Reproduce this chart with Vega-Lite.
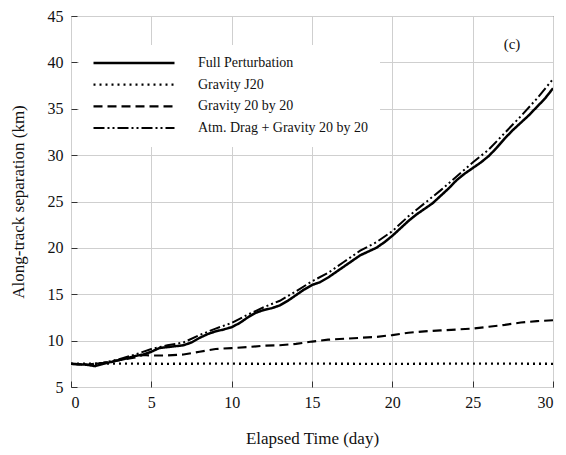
{
  "$schema": "https://vega.github.io/schema/vega-lite/v6.json",
  "width": 482,
  "height": 371,
  "autosize": "none",
  "padding": {"left": 71, "top": 16, "right": 13, "bottom": 68},
  "background": "white",
  "config": {
    "view": {"stroke": "#333333", "strokeWidth": 1},
    "font": "Liberation Serif",
    "axis": {
      "labelFont": "Liberation Serif",
      "titleFont": "Liberation Serif",
      "labelColor": "#111111",
      "titleColor": "#111111",
      "labelFontSize": 16,
      "titleFontSize": 17,
      "titleFontWeight": "normal",
      "domain": false,
      "gridColor": "#cfcfcf",
      "gridWidth": 1,
      "tickColor": "#333333",
      "tickSize": -6
    },
    "legend": {
      "labelFont": "Liberation Serif",
      "labelFontSize": 14,
      "labelColor": "#111111"
    }
  },
  "datasets": {
    "curves": [
      {"t": 0, "v": 7.5, "series": "Full Perturbation"},
      {"t": 0.5, "v": 7.45, "series": "Full Perturbation"},
      {"t": 1, "v": 7.4, "series": "Full Perturbation"},
      {"t": 1.5, "v": 7.25, "series": "Full Perturbation"},
      {"t": 2, "v": 7.5, "series": "Full Perturbation"},
      {"t": 2.5, "v": 7.7, "series": "Full Perturbation"},
      {"t": 3, "v": 7.9, "series": "Full Perturbation"},
      {"t": 3.5, "v": 8.1, "series": "Full Perturbation"},
      {"t": 4, "v": 8.35, "series": "Full Perturbation"},
      {"t": 4.5, "v": 8.5, "series": "Full Perturbation"},
      {"t": 5, "v": 8.8, "series": "Full Perturbation"},
      {"t": 5.5, "v": 9.2, "series": "Full Perturbation"},
      {"t": 6, "v": 9.3, "series": "Full Perturbation"},
      {"t": 6.5, "v": 9.4, "series": "Full Perturbation"},
      {"t": 7, "v": 9.5, "series": "Full Perturbation"},
      {"t": 7.5, "v": 9.8, "series": "Full Perturbation"},
      {"t": 8, "v": 10.3, "series": "Full Perturbation"},
      {"t": 8.5, "v": 10.7, "series": "Full Perturbation"},
      {"t": 9, "v": 11.0, "series": "Full Perturbation"},
      {"t": 9.5, "v": 11.2, "series": "Full Perturbation"},
      {"t": 10, "v": 11.45, "series": "Full Perturbation"},
      {"t": 10.5, "v": 11.9, "series": "Full Perturbation"},
      {"t": 11, "v": 12.5, "series": "Full Perturbation"},
      {"t": 11.5, "v": 13.0, "series": "Full Perturbation"},
      {"t": 12, "v": 13.3, "series": "Full Perturbation"},
      {"t": 12.5, "v": 13.5, "series": "Full Perturbation"},
      {"t": 13, "v": 13.8, "series": "Full Perturbation"},
      {"t": 13.5, "v": 14.3, "series": "Full Perturbation"},
      {"t": 14, "v": 14.9, "series": "Full Perturbation"},
      {"t": 14.5, "v": 15.5, "series": "Full Perturbation"},
      {"t": 15, "v": 16.0, "series": "Full Perturbation"},
      {"t": 15.5, "v": 16.3, "series": "Full Perturbation"},
      {"t": 16, "v": 16.8, "series": "Full Perturbation"},
      {"t": 16.5, "v": 17.4, "series": "Full Perturbation"},
      {"t": 17, "v": 18.0, "series": "Full Perturbation"},
      {"t": 17.5, "v": 18.6, "series": "Full Perturbation"},
      {"t": 18, "v": 19.2, "series": "Full Perturbation"},
      {"t": 18.5, "v": 19.6, "series": "Full Perturbation"},
      {"t": 19, "v": 20.0, "series": "Full Perturbation"},
      {"t": 19.5, "v": 20.6, "series": "Full Perturbation"},
      {"t": 20, "v": 21.3, "series": "Full Perturbation"},
      {"t": 20.5, "v": 22.1, "series": "Full Perturbation"},
      {"t": 21, "v": 22.9, "series": "Full Perturbation"},
      {"t": 21.5, "v": 23.6, "series": "Full Perturbation"},
      {"t": 22, "v": 24.2, "series": "Full Perturbation"},
      {"t": 22.5, "v": 24.8, "series": "Full Perturbation"},
      {"t": 23, "v": 25.6, "series": "Full Perturbation"},
      {"t": 23.5, "v": 26.4, "series": "Full Perturbation"},
      {"t": 24, "v": 27.3, "series": "Full Perturbation"},
      {"t": 24.5, "v": 28.0, "series": "Full Perturbation"},
      {"t": 25, "v": 28.6, "series": "Full Perturbation"},
      {"t": 25.5, "v": 29.2, "series": "Full Perturbation"},
      {"t": 26, "v": 29.9, "series": "Full Perturbation"},
      {"t": 26.5, "v": 30.8, "series": "Full Perturbation"},
      {"t": 27, "v": 31.8, "series": "Full Perturbation"},
      {"t": 27.5, "v": 32.7, "series": "Full Perturbation"},
      {"t": 28, "v": 33.5, "series": "Full Perturbation"},
      {"t": 28.5, "v": 34.3, "series": "Full Perturbation"},
      {"t": 29, "v": 35.2, "series": "Full Perturbation"},
      {"t": 29.5, "v": 36.1, "series": "Full Perturbation"},
      {"t": 30, "v": 37.2, "series": "Full Perturbation"},

      {"t": 0, "v": 7.5, "series": "Gravity J20"},
      {"t": 3, "v": 7.52, "series": "Gravity J20"},
      {"t": 6, "v": 7.5, "series": "Gravity J20"},
      {"t": 9, "v": 7.52, "series": "Gravity J20"},
      {"t": 12, "v": 7.5, "series": "Gravity J20"},
      {"t": 15, "v": 7.52, "series": "Gravity J20"},
      {"t": 18, "v": 7.5, "series": "Gravity J20"},
      {"t": 21, "v": 7.5, "series": "Gravity J20"},
      {"t": 24, "v": 7.52, "series": "Gravity J20"},
      {"t": 27, "v": 7.52, "series": "Gravity J20"},
      {"t": 30, "v": 7.5, "series": "Gravity J20"},

      {"t": 0, "v": 7.5, "series": "Gravity 20 by 20"},
      {"t": 1, "v": 7.4, "series": "Gravity 20 by 20"},
      {"t": 2, "v": 7.6, "series": "Gravity 20 by 20"},
      {"t": 3, "v": 7.9, "series": "Gravity 20 by 20"},
      {"t": 4, "v": 8.2, "series": "Gravity 20 by 20"},
      {"t": 4.5, "v": 8.45, "series": "Gravity 20 by 20"},
      {"t": 5, "v": 8.4, "series": "Gravity 20 by 20"},
      {"t": 6, "v": 8.4, "series": "Gravity 20 by 20"},
      {"t": 7, "v": 8.5, "series": "Gravity 20 by 20"},
      {"t": 8, "v": 8.8, "series": "Gravity 20 by 20"},
      {"t": 9, "v": 9.1, "series": "Gravity 20 by 20"},
      {"t": 10, "v": 9.2, "series": "Gravity 20 by 20"},
      {"t": 11, "v": 9.3, "series": "Gravity 20 by 20"},
      {"t": 12, "v": 9.45, "series": "Gravity 20 by 20"},
      {"t": 13, "v": 9.5, "series": "Gravity 20 by 20"},
      {"t": 14, "v": 9.65, "series": "Gravity 20 by 20"},
      {"t": 15, "v": 9.9, "series": "Gravity 20 by 20"},
      {"t": 16, "v": 10.1, "series": "Gravity 20 by 20"},
      {"t": 17, "v": 10.2, "series": "Gravity 20 by 20"},
      {"t": 18, "v": 10.3, "series": "Gravity 20 by 20"},
      {"t": 19, "v": 10.4, "series": "Gravity 20 by 20"},
      {"t": 20, "v": 10.6, "series": "Gravity 20 by 20"},
      {"t": 21, "v": 10.85, "series": "Gravity 20 by 20"},
      {"t": 22, "v": 11.0, "series": "Gravity 20 by 20"},
      {"t": 23, "v": 11.1, "series": "Gravity 20 by 20"},
      {"t": 24, "v": 11.2, "series": "Gravity 20 by 20"},
      {"t": 25, "v": 11.3, "series": "Gravity 20 by 20"},
      {"t": 26, "v": 11.5, "series": "Gravity 20 by 20"},
      {"t": 27, "v": 11.7, "series": "Gravity 20 by 20"},
      {"t": 28, "v": 11.95, "series": "Gravity 20 by 20"},
      {"t": 29, "v": 12.1, "series": "Gravity 20 by 20"},
      {"t": 30, "v": 12.2, "series": "Gravity 20 by 20"},

      {"t": 0, "v": 7.5, "series": "Atm. Drag + Gravity 20 by 20"},
      {"t": 1, "v": 7.4, "series": "Atm. Drag + Gravity 20 by 20"},
      {"t": 2, "v": 7.6, "series": "Atm. Drag + Gravity 20 by 20"},
      {"t": 3, "v": 8.0, "series": "Atm. Drag + Gravity 20 by 20"},
      {"t": 4, "v": 8.5, "series": "Atm. Drag + Gravity 20 by 20"},
      {"t": 5, "v": 9.1, "series": "Atm. Drag + Gravity 20 by 20"},
      {"t": 6, "v": 9.5, "series": "Atm. Drag + Gravity 20 by 20"},
      {"t": 7, "v": 9.8, "series": "Atm. Drag + Gravity 20 by 20"},
      {"t": 8, "v": 10.6, "series": "Atm. Drag + Gravity 20 by 20"},
      {"t": 9, "v": 11.3, "series": "Atm. Drag + Gravity 20 by 20"},
      {"t": 10, "v": 11.9, "series": "Atm. Drag + Gravity 20 by 20"},
      {"t": 11, "v": 12.8, "series": "Atm. Drag + Gravity 20 by 20"},
      {"t": 12, "v": 13.6, "series": "Atm. Drag + Gravity 20 by 20"},
      {"t": 13, "v": 14.3, "series": "Atm. Drag + Gravity 20 by 20"},
      {"t": 14, "v": 15.3, "series": "Atm. Drag + Gravity 20 by 20"},
      {"t": 15, "v": 16.4, "series": "Atm. Drag + Gravity 20 by 20"},
      {"t": 16, "v": 17.3, "series": "Atm. Drag + Gravity 20 by 20"},
      {"t": 17, "v": 18.5, "series": "Atm. Drag + Gravity 20 by 20"},
      {"t": 18, "v": 19.7, "series": "Atm. Drag + Gravity 20 by 20"},
      {"t": 19, "v": 20.6, "series": "Atm. Drag + Gravity 20 by 20"},
      {"t": 20, "v": 21.8, "series": "Atm. Drag + Gravity 20 by 20"},
      {"t": 21, "v": 23.4, "series": "Atm. Drag + Gravity 20 by 20"},
      {"t": 22, "v": 24.8, "series": "Atm. Drag + Gravity 20 by 20"},
      {"t": 23, "v": 26.2, "series": "Atm. Drag + Gravity 20 by 20"},
      {"t": 24, "v": 27.7, "series": "Atm. Drag + Gravity 20 by 20"},
      {"t": 25, "v": 29.2, "series": "Atm. Drag + Gravity 20 by 20"},
      {"t": 26, "v": 30.6, "series": "Atm. Drag + Gravity 20 by 20"},
      {"t": 27, "v": 32.4, "series": "Atm. Drag + Gravity 20 by 20"},
      {"t": 28, "v": 34.2, "series": "Atm. Drag + Gravity 20 by 20"},
      {"t": 29, "v": 36.1, "series": "Atm. Drag + Gravity 20 by 20"},
      {"t": 30, "v": 38.2, "series": "Atm. Drag + Gravity 20 by 20"}
    ],
    "labels": [
      {"t": 27.45, "v": 42.0, "text": "(c)"}
    ]
  },
  "layer": [
    {
      "data": {"name": "curves"},
      "mark": {"type": "line", "color": "black", "clip": true},
      "encoding": {
        "x": {
          "field": "t", "type": "quantitative",
          "scale": {"domain": [0, 30], "nice": false},
          "axis": {"values": [0, 5, 10, 15, 20, 25, 30], "title": "Elapsed Time (day)", "labelPadding": 13, "titlePadding": 20}
        },
        "y": {
          "field": "v", "type": "quantitative",
          "scale": {"domain": [5, 45], "nice": false},
          "axis": {"values": [5, 10, 15, 20, 25, 30, 35, 40, 45], "title": "Along-track separation (km)", "labelPadding": 14, "titlePadding": 20}
        },
        "strokeDash": {
          "field": "series", "type": "nominal",
          "scale": {
            "domain": ["Full Perturbation", "Gravity J20", "Gravity 20 by 20", "Atm. Drag + Gravity 20 by 20"],
            "range": [[1, 0], [2, 4], [9, 5], [11, 3, 2, 3, 2, 3]]
          },
          "legend": {
            "title": null,
            "orient": "none",
            "legendX": 8,
            "legendY": 29,
            "fillColor": "white",
            "padding": 11,
            "symbolType": "stroke",
            "symbolSize": 6561,
            "symbolStrokeColor": "black",
            "symbolStrokeWidth": 2.2,
            "symbolOffset": 2,
            "clipHeight": 14,
            "labelOffset": 22,
            "labelLimit": 400,
            "rowPadding": 7.7
          }
        },
        "strokeWidth": {
          "field": "series", "type": "nominal",
          "scale": {
            "domain": ["Full Perturbation", "Gravity J20", "Gravity 20 by 20", "Atm. Drag + Gravity 20 by 20"],
            "range": [2.5, 2, 2.3, 2]
          },
          "legend": null
        }
      }
    },
    {
      "data": {"name": "labels"},
      "mark": {"type": "text", "font": "Liberation Serif", "fontSize": 15, "color": "#111111"},
      "encoding": {
        "x": {"field": "t", "type": "quantitative"},
        "y": {"field": "v", "type": "quantitative"},
        "text": {"field": "text"}
      }
    }
  ]
}
